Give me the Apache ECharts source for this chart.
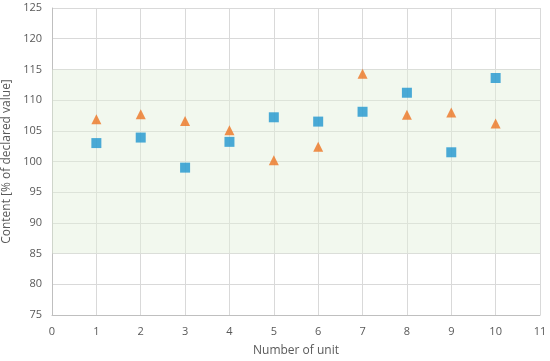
<!DOCTYPE html>
<html><head><meta charset="utf-8">
<script src="https://cdn.jsdelivr.net/npm/echarts@6/dist/echarts.min.js"></script>
<style>html,body{margin:0;padding:0;background:#fff}#c{width:550px;height:361px}</style>
</head><body><div id="c"></div>
<script>
var units = [1,2,3,4,5,6,7,8,9,10];
var squareValues = [103.0,103.9,99.0,103.2,107.2,106.5,108.1,111.2,101.5,113.6];
var triangleValues = [106.9,107.7,106.6,105.1,100.2,102.4,114.3,107.6,108.0,106.2];
var bandLow = 85, bandHigh = 115;
var font = '"Open Sans", sans-serif';
var chart = echarts.init(document.getElementById('c'));
chart.setOption({
  animation:false,
  grid:{left:52,right:10,top:8,bottom:46,containLabel:false,outerBoundsMode:'none'},
  xAxis:{type:'value',min:0,max:11,interval:1,
    name:'Number of unit',nameLocation:'middle',nameGap:30,
    nameTextStyle:{color:'#595959',fontSize:12,fontFamily:font},
    axisLine:{lineStyle:{color:'#bfbfbf',width:1}},axisTick:{show:false},
    axisLabel:{color:'#595959',fontSize:11,fontFamily:font,margin:11},
    splitLine:{show:true,lineStyle:{color:'#d9d9d9'}}},
  yAxis:{type:'value',min:75,max:125,interval:5,
    name:'Content [% of declared value]',nameLocation:'middle',nameGap:36,
    nameTextStyle:{color:'#595959',fontSize:12,fontFamily:font},
    axisLine:{show:true,lineStyle:{color:'#bfbfbf',width:1}},axisTick:{show:false},
    axisLabel:{color:'#595959',fontSize:11,fontFamily:font,margin:10},
    splitLine:{show:true,lineStyle:{color:'#d9d9d9'}}},
  series:[
    {type:'scatter',symbol:'rect',symbolSize:10,itemStyle:{color:'#1f96cf'},
     data:units.map(function(u,i){return [u,squareValues[i]];}),z:3,
     markArea:{silent:true,itemStyle:{color:'rgba(226,240,217,0.45)'},data:[[{yAxis:bandLow},{yAxis:bandHigh}]]}},
    {type:'scatter',symbol:'triangle',symbolSize:[10,10],itemStyle:{color:'#ee7623'},
     data:units.map(function(u,i){return [u,triangleValues[i]];}),z:3}
  ]
});
</script></body></html>
